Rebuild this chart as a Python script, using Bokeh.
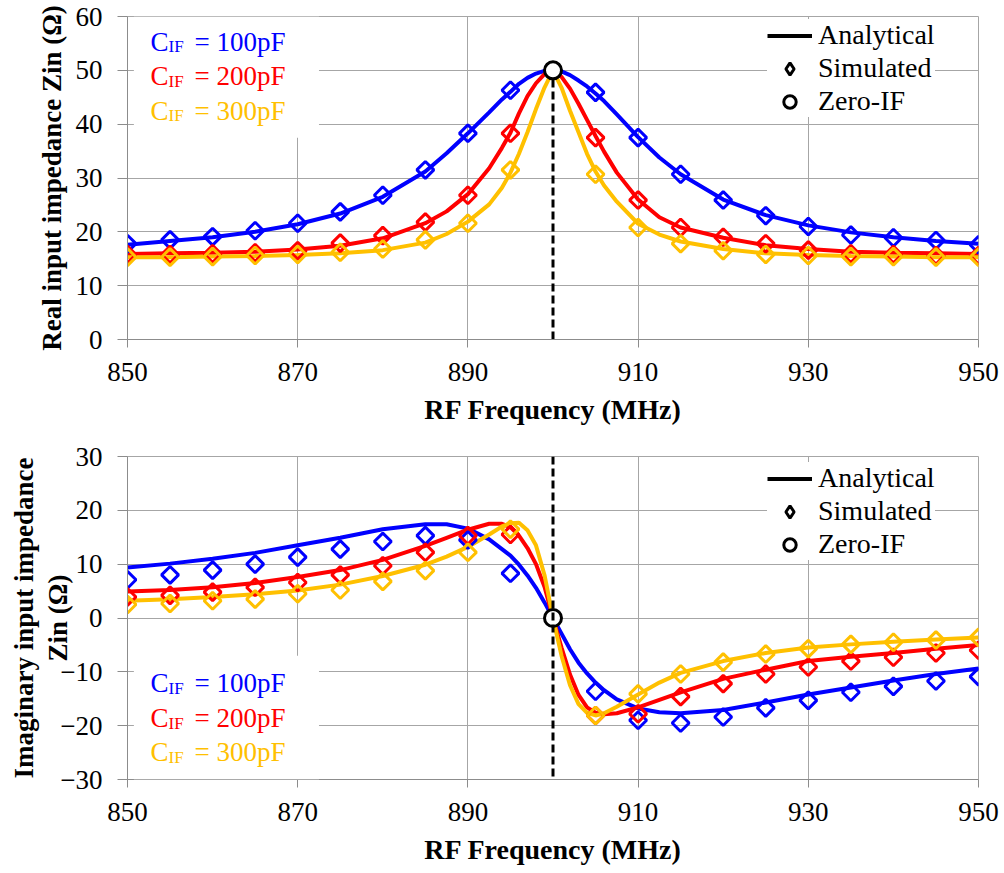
from bokeh.plotting import figure
from bokeh.models import (Range1d, Span, Label, BoxAnnotation, Legend, LegendItem, ColumnDataSource)
from bokeh.layouts import column
from bokeh.embed import file_html
from bokeh.resources import INLINE

# ---------------- data ----------------
x_ticks = [850, 870, 890, 910, 930, 950]
re_ticks = [0, 10, 20, 30, 40, 50, 60]
im_ticks = [-30, -20, -10, 0, 10, 20, 30]

cif_names = ["100pF", "200pF", "300pF"]
colors = ["#0000FF", "#FF0000", "#FFC000"]

zero_if_freq = 900
zero_if_re = 50
zero_if_im = 0

# simulated points (diamonds)
freq_sim = [850, 855, 860, 865, 870, 875, 880, 885, 890, 895,
            905, 910, 915, 920, 925, 930, 935, 940, 945, 950]
re_sim_100 = [17.8, 18.5, 19.1, 20.2, 21.6, 23.7, 26.8, 31.5, 38.3, 46.3,
              45.9, 37.5, 30.7, 25.9, 23.0, 21.0, 19.4, 18.9, 18.4, 17.6]
re_sim_200 = [15.8, 15.8, 15.9, 16.1, 16.5, 17.9, 19.3, 21.8, 26.8, 38.3,
              37.5, 25.9, 20.8, 19.0, 17.8, 16.6, 15.9, 15.8, 15.6, 15.6]
re_sim_300 = [15.3, 15.3, 15.4, 15.6, 15.8, 16.2, 16.8, 18.5, 21.6, 31.5,
              30.7, 20.8, 17.8, 16.5, 15.8, 15.6, 15.4, 15.4, 15.3, 15.3]
im_sim_100 = [7.1, 8.0, 8.9, 10.0, 11.3, 12.8, 14.2, 15.3, 14.5, 8.3,
              -13.6, -19.0, -19.5, -18.4, -16.7, -15.3, -13.8, -12.7, -11.7, -10.9]
im_sim_200 = [3.9, 4.2, 4.8, 5.7, 6.6, 8.0, 9.7, 12.2, 15.3, 15.5,
              -18.1, -17.8, -14.6, -12.2, -10.4, -9.1, -8.0, -7.3, -6.5, -6.0]
im_sim_300 = [2.5, 2.7, 3.2, 3.5, 4.5, 5.2, 6.8, 8.8, 12.2, 16.5,
              -18.1, -14.1, -10.4, -8.2, -6.7, -5.7, -4.9, -4.5, -4.1, -3.6]

# analytical curves
freq_an = [850, 855, 860, 865, 870, 875, 880, 885, 887.5, 890, 892.5, 894, 895,
           896, 897, 898, 899, 900, 901, 902, 903, 904, 905, 906, 907.5, 910,
           912.5, 915, 920, 925, 930, 935, 940, 945, 950]
re_an_100 = [17.6, 18.3, 19.0, 20.0, 21.4, 23.4, 26.5, 31.2, 34.6, 38.3, 42.2, 44.6, 46.0,
             47.5, 48.6, 49.4, 49.9, 50.0, 49.8, 49.1, 48.1, 47.0, 45.7, 44.3, 41.8, 37.6,
             33.8, 30.7, 26.0, 23.1, 21.2, 19.9, 19.0, 18.3, 17.8]
re_an_200 = [15.9, 16.0, 16.1, 16.3, 16.7, 17.4, 18.8, 21.6, 23.8, 27.0, 31.8, 35.6, 38.4,
             42.0, 45.2, 47.6, 49.3, 50.0, 48.8, 46.6, 43.8, 40.8, 37.8, 34.9, 31.0, 26.0,
             22.7, 20.8, 18.9, 17.5, 16.8, 16.3, 16.1, 16.0, 15.9]
re_an_300 = [15.3, 15.3, 15.4, 15.5, 15.7, 16.0, 16.6, 18.0, 19.6, 21.9, 25.1, 28.2, 31.0,
             34.5, 38.5, 42.8, 46.8, 50.0, 46.8, 42.5, 38.5, 34.5, 31.2, 28.6, 25.6, 21.5,
             19.5, 18.2, 16.8, 16.0, 15.7, 15.5, 15.4, 15.3, 15.3]
im_an_100 = [9.4, 10.1, 11.0, 12.1, 13.5, 14.9, 16.5, 17.4, 17.4, 16.6, 14.6, 12.8, 11.6,
             9.9, 7.9, 5.6, 2.9, 0.0, -2.9, -5.8, -8.3, -10.3, -12.0, -13.4, -15.1, -16.8,
             -17.5, -17.7, -17.1, -15.7, -14.2, -12.9, -11.6, -10.4, -9.4]
im_an_200 = [4.9, 5.2, 5.7, 6.5, 7.6, 8.9, 10.8, 13.4, 14.9, 16.4, 17.5, 17.5, 16.9,
             15.3, 13.0, 10.0, 5.8, 0.0, -5.5, -10.5, -14.3, -16.6, -17.6, -17.9, -17.7, -16.6,
             -15.2, -13.8, -11.3, -9.6, -8.0, -7.2, -6.5, -5.7, -5.0]
im_an_300 = [3.2, 3.5, 3.9, 4.4, 5.1, 6.2, 7.8, 9.9, 11.4, 13.2, 15.5, 17.0, 17.6,
             17.7, 16.3, 13.5, 8.0, 0.0, -7.0, -12.5, -16.0, -17.6, -18.1, -17.7, -16.5, -14.2,
             -12.0, -10.2, -8.0, -6.5, -5.5, -4.9, -4.4, -4.0, -3.6]

re_an = [re_an_100, re_an_200, re_an_300]
re_sim = [re_sim_100, re_sim_200, re_sim_300]
im_an = [im_an_100, im_an_200, im_an_300]
im_sim = [im_sim_100, im_sim_200, im_sim_300]

# ---------------- styling ----------------
SERIF = "Liberation Serif"
GRID = "#a6a6a6"
AXIS = "#8c8c8c"
NAN = float("nan")


def make_fig(height, bottom_border, ticks, ylabel, label_standoff):
    p = figure(width=1004, height=height, output_backend="svg", toolbar_location=None,
               x_range=Range1d(x_ticks[0], x_ticks[-1]),
               y_range=Range1d(ticks[0], ticks[-1]),
               min_border_left=127, min_border_right=26, min_border_top=16,
               min_border_bottom=bottom_border)
    p.background_fill_color = "white"
    p.border_fill_color = "white"
    p.outline_line_color = GRID
    p.outline_line_width = 1
    p.xaxis.ticker = x_ticks
    p.yaxis.ticker = ticks
    for g in (p.xgrid, p.ygrid):
        g.grid_line_color = GRID
        g.grid_line_width = 1
    for ax in (p.xaxis, p.yaxis):
        ax.axis_line_color = AXIS
        ax.major_tick_line_color = AXIS
        ax.minor_tick_line_color = None
        ax.major_tick_in = 0
        ax.major_label_text_font = SERIF
        ax.major_label_text_font_size = "27px"
        ax.major_label_text_color = "black"
        ax.axis_label_text_font = SERIF
        ax.axis_label_text_font_style = "bold"
        ax.axis_label_text_color = "black"
        ax.axis_label_text_line_height = 1.15
    p.xaxis.axis_label_text_font_size = "28px"
    p.yaxis.axis_label_text_font_size = "27px"
    p.xaxis.major_tick_out = 8
    p.yaxis.major_tick_out = 10
    p.xaxis.major_label_standoff = 15
    p.yaxis.major_label_standoff = 15
    p.xaxis.axis_label = "RF Frequency (MHz)"
    p.xaxis.axis_label_standoff = 10
    p.yaxis.axis_label = ylabel
    p.yaxis.axis_label_standoff = label_standoff
    return p


def add_series(p, an, sim):
    for ys, c in zip(an, colors):
        p.line(freq_an, ys, line_color=c, line_width=4)
    for ys, c in zip(sim, colors):
        p.scatter(freq_sim, ys, marker="square", angle=0.785398, size=12,
                  line_color=c, line_width=3, fill_color=None)


def add_cif(p, box, baselines):
    left, right, bottom, top = box
    p.add_layout(BoxAnnotation(left=left, right=right, bottom=bottom, top=top,
                               fill_color="white", fill_alpha=1, line_color=None))
    x0 = 852.7
    for name, c, yb in zip(cif_names, colors, baselines):
        p.add_layout(Label(x=x0, y=yb, text="C", text_font=SERIF, text_font_size="27px",
                           text_color=c, text_baseline="alphabetic"))
        p.add_layout(Label(x=x0, y=yb, x_offset=18, y_offset=-5, text="IF", text_font=SERIF,
                           text_font_size="17px", text_color=c, text_baseline="alphabetic"))
        p.add_layout(Label(x=x0, y=yb, x_offset=44, text="= " + name, text_font=SERIF,
                           text_font_size="27px", text_color=c, text_baseline="alphabetic"))


def add_legend(p, top_y):
    # legend-only renderers: one NaN point each, so nothing shows in the plot area
    dummy = ColumnDataSource(data=dict(x=[NAN], y=[NAN]))
    r_line = p.line("x", "y", source=dummy, line_color="black", line_width=4)
    r_dia = p.scatter("x", "y", source=dummy, marker="diamond", size=14,
                      line_color="black", line_width=3, fill_color=None)
    r_circ = p.scatter("x", "y", source=dummy, marker="circle", size=14,
                       line_color="black", line_width=3, fill_color="white")
    leg = Legend(items=[LegendItem(label="Analytical", renderers=[r_line]),
                        LegendItem(label="Simulated", renderers=[r_dia]),
                        LegendItem(label="Zero-IF", renderers=[r_circ])],
                 location=(640, top_y), label_text_font=SERIF, label_text_font_size="28px",
                 label_text_color="black", glyph_width=45, glyph_height=31, label_height=31,
                 label_standoff=6, spacing=1, padding=2, margin=0,
                 border_line_color=None, background_fill_color="white",
                 background_fill_alpha=1)
    p.add_layout(leg)


# ---------------- top: real part ----------------
p1 = make_fig(440, 101, re_ticks, "Real input impedance Zin (Ω)", 6)
p1.segment(x0=[zero_if_freq], y0=[re_ticks[0]], x1=[zero_if_freq], y1=[zero_if_re],
           line_color="black", line_width=3, line_dash="8 4")
add_series(p1, re_an, re_sim)
p1.scatter([zero_if_freq], [zero_if_re], marker="circle", size=17, line_color="black",
           line_width=3, fill_color="white")
add_cif(p1, (850.75, 872.5, 37.5, 60), [55.3, 48.9, 42.5])
add_legend(p1, 222)

# ---------------- bottom: imaginary part ----------------
p2 = make_fig(433, 94, im_ticks, "Imaginary input impedance\nZin (Ω)", -16)
p2.add_layout(Span(location=zero_if_freq, dimension="height", line_color="black",
                   line_width=3, line_dash="8 4"))
add_series(p2, im_an, im_sim)
p2.scatter([zero_if_freq], [zero_if_im], marker="circle", size=17, line_color="black",
           line_width=3, fill_color="white")
add_cif(p2, (850.75, 872.5, -30, -7), [-12.1, -18.6, -24.9])
add_legend(p2, 219)

layout = column(p1, p2, spacing=0)
open("out.html", "w").write(file_html(layout, INLINE))
